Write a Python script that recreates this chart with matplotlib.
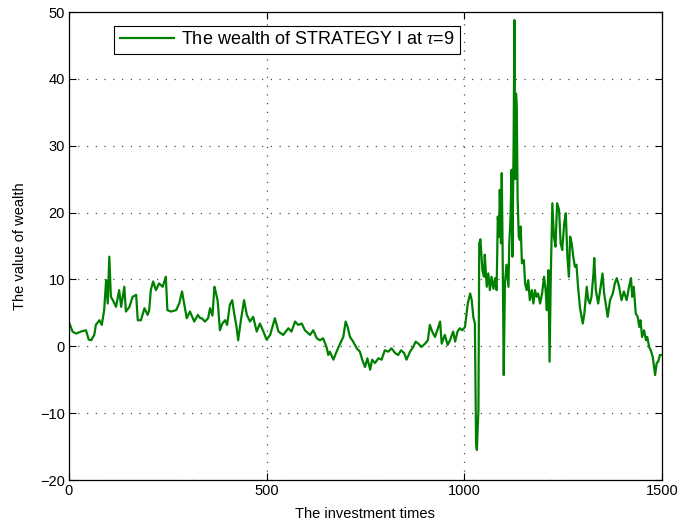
import matplotlib
matplotlib.use("Agg")
import matplotlib.pyplot as plt
import numpy as np

plt.rcParams['font.family'] = ['Liberation Sans', 'DejaVu Sans']
plt.rcParams['mathtext.fontset'] = 'custom'
plt.rcParams['mathtext.it'] = 'Liberation Serif:italic'

# points (investment time, wealth)
times = [0, 9, 18, 30, 43, 50, 56, 64, 68, 77, 83, 89, 94, 98, 102, 106, 111, 119, 127, 132,
         140, 144, 153, 161, 170, 174, 182, 191, 199, 203, 207, 213, 220, 228, 237, 245, 249, 258, 271, 279,
         286, 292, 298, 306, 317, 326, 332, 336, 344, 352, 357, 363, 368, 371, 376, 382, 388, 395, 400, 407,
         413, 418, 424, 428, 435, 443, 450, 458, 466, 475, 483, 492, 500, 509, 521, 530, 542, 555, 563, 572,
         580, 589, 597, 610, 618, 627, 635, 643, 652, 656, 660, 669, 677, 686, 694, 700, 705, 711, 719, 728,
         736, 742, 749, 755, 762, 767, 774, 783, 791, 799, 808, 816, 825, 833, 840, 848, 854, 863, 871, 877,
         884, 892, 901, 908, 913, 919, 926, 932, 939, 943, 951, 958, 964, 972, 977, 983, 989, 995, 1002, 1009,
         1015, 1019, 1023, 1027, 1030, 1032, 1036, 1038, 1041, 1046, 1050, 1052, 1057, 1061, 1065, 1069, 1074, 1078, 1082, 1085,
         1088, 1090, 1093, 1095, 1097, 1100, 1103, 1107, 1112, 1114, 1117, 1120, 1122, 1125, 1127, 1129, 1131, 1133, 1135, 1138,
         1141, 1143, 1146, 1151, 1154, 1158, 1162, 1166, 1171, 1175, 1179, 1183, 1187, 1192, 1197, 1202, 1206, 1209, 1213, 1216,
         1219, 1223, 1227, 1231, 1235, 1240, 1244, 1248, 1253, 1257, 1261, 1265, 1268, 1272, 1276, 1280, 1284, 1288, 1293, 1297,
         1300, 1304, 1310, 1314, 1318, 1322, 1327, 1329, 1333, 1339, 1345, 1350, 1354, 1358, 1363, 1369, 1376, 1381, 1386, 1392,
         1398, 1404, 1411, 1417, 1422, 1425, 1429, 1434, 1439, 1443, 1446, 1450, 1455, 1460, 1463, 1468, 1472, 1477, 1483, 1487,
         1491, 1495, 1500]
wealth = [3.6, 2.2, 1.9, 2.2, 2.4, 1.0, 0.9, 1.7, 3.2, 3.9, 3.2, 5.4, 9.9, 6.4, 13.4, 7.4, 6.9, 5.9, 8.4, 5.9,
          8.9, 5.2, 5.9, 7.4, 7.7, 3.9, 3.9, 5.7, 4.7, 5.4, 8.4, 9.7, 8.4, 9.4, 8.9, 10.4, 5.4, 5.2, 5.4, 6.4,
          8.2, 6.2, 4.2, 5.2, 3.7, 4.7, 4.2, 4.2, 3.7, 4.2, 5.7, 4.6, 8.9, 8.2, 6.9, 2.4, 3.4, 3.9, 3.2, 6.2,
          6.9, 4.9, 2.9, 0.9, 3.9, 6.9, 4.7, 3.7, 4.4, 2.2, 3.4, 2.2, 1.0, 1.7, 4.2, 2.2, 1.7, 2.7, 2.2, 3.7,
          3.2, 3.4, 2.4, 1.7, 2.4, 1.2, 0.9, 1.2, -0.2, -1.3, -0.8, -2.0, -0.8, 0.4, 1.4, 3.7, 2.9, 1.4, 0.7, -0.3,
          -0.8, -2.0, -3.1, -1.8, -3.5, -2.0, -2.5, -1.8, -2.0, -0.6, -0.8, -0.3, -1.0, -1.3, -0.6, -1.0, -2.0, -0.8, -0.1, 0.7,
          0.4, -0.1, 0.4, 0.9, 3.2, 2.2, 1.4, 2.4, 3.7, 0.4, 1.7, 0.2, 0.9, 2.2, 0.7, 2.2, 2.7, 2.4, 2.9, 6.4,
          7.9, 6.9, 4.4, 3.4, -14.5, -15.5, -9.5, 15.4, 16.0, 11.4, 10.4, 13.7, 8.9, 10.9, 8.4, 10.4, 8.6, 10.2, 8.4, 19.4,
          16.4, 23.4, 15.4, 25.9, 15.4, -4.3, 9.4, 12.2, 8.9, 15.4, 18.9, 26.4, 13.4, 30.4, 48.8, 25.0, 37.8, 36.0, 22.4, 16.4,
          15.9, 17.9, 12.4, 12.9, 9.4, 8.4, 9.9, 6.9, 8.4, 6.4, 8.4, 7.4, 7.9, 6.4, 7.9, 10.4, 8.4, 5.4, 11.4, -2.3,
          10.4, 21.4, 16.4, 14.9, 21.4, 20.4, 15.4, 14.4, 18.4, 19.9, 13.4, 10.4, 16.4, 15.4, 13.4, 11.9, 12.2, 8.9, 5.7, 4.4,
          3.4, 4.9, 8.9, 6.9, 6.4, 7.4, 10.9, 13.2, 8.4, 6.4, 8.9, 10.9, 7.9, 6.4, 4.4, 6.9, 7.9, 9.4, 10.2, 8.9,
          6.9, 8.2, 6.9, 8.9, 10.2, 7.4, 8.9, 4.9, 4.4, 2.9, 3.9, 1.4, 2.4, 0.9, 1.4, -0.1, -0.6, -1.6, -4.3, -2.5,
          -2.3, -1.3, -1.3]

x_ticks = [0, 500, 1000, 1500]
y_ticks = [-20, -10, 0, 10, 20, 30, 40, 50]

fig = plt.figure(figsize=(6.83, 5.29), dpi=100)
ax = fig.add_axes([0.101, 0.0926, 0.868, 0.8847])

ax.plot(times, wealth, color=(0, 0.5, 0), linewidth=1.6,
        label=r"The wealth of STRATEGY I at $\tau$=9")

ax.set_xlim(0, 1500)
ax.set_ylim(-20, 50)
ax.set_xticks(x_ticks)
ax.set_yticks(y_ticks)
ax.tick_params(direction='in', top=True, right=True, labelsize=10.5, length=5, pad=3)
ax.grid(True, linestyle=(0, (1, 6)), color='0.3', linewidth=0.9)
for s in ax.spines.values():
    s.set_linewidth(0.9)

ax.set_xlabel("The investment times", fontsize=10.5, labelpad=6)
ax.set_ylabel("The value of wealth", fontsize=10.5, labelpad=9)

leg = ax.legend(loc='upper left', bbox_to_anchor=(0.0764, 0.970), borderaxespad=0,
                fontsize=13, handlelength=3.0, fancybox=False, framealpha=1,
                edgecolor='black', borderpad=0.3, handletextpad=0.4)
leg.get_frame().set_linewidth(0.8)

plt.savefig("out.png", dpi=100)
